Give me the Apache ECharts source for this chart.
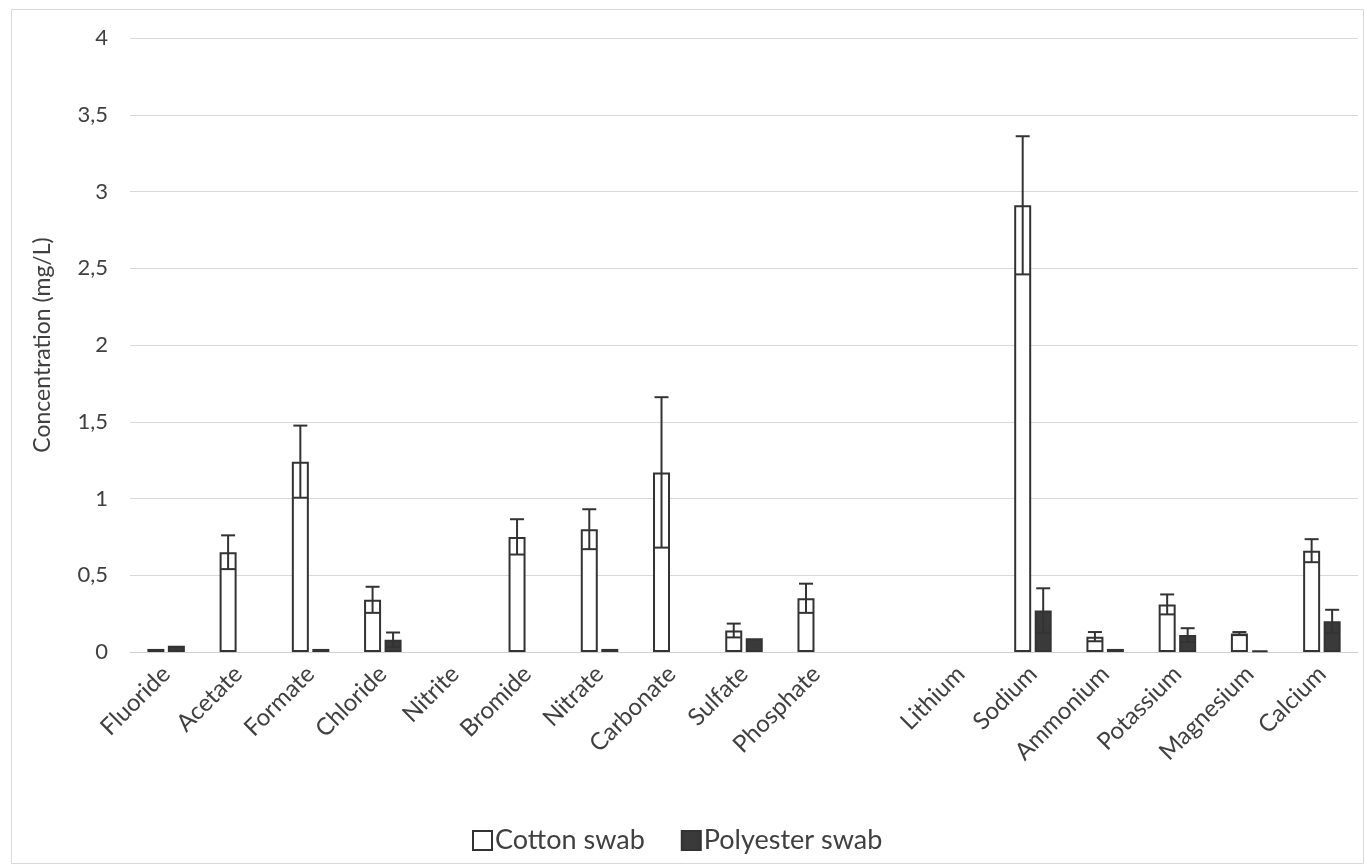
<!DOCTYPE html>
<html>
<head>
<meta charset="utf-8">
<script src="https://cdn.jsdelivr.net/npm/echarts@6/dist/echarts.min.js"></script>
<style>html,body{margin:0;padding:0;background:#fff;}#main{width:1366px;height:867px;}</style>
</head>
<body>
<div id="main"></div>
<script>
const categories = ['Fluoride','Acetate','Formate','Chloride','Nitrite','Bromide','Nitrate','Carbonate','Sulfate','Phosphate','','Lithium','Sodium','Ammonium','Potassium','Magnesium','Calcium'];
const cotton    = [0.02, 0.65, 1.24, 0.34, 0, 0.75, 0.80, 1.17, 0.14, 0.35, null, 0, 2.91, 0.10, 0.31, 0.12, 0.66];
const cottonErr = [0,    0.11, 0.235,0.085,0, 0.115,0.13, 0.49, 0.045,0.095,null, 0, 0.45, 0.03, 0.065,0.01, 0.075];
const polyester = [0.04, 0,    0.02, 0.08, 0, 0,    0.02, 0,    0.09, 0,    null, 0, 0.27, 0.02, 0.11, 0.01, 0.20];
const polyErr   = [0,    0,    0,    0.047,0, 0,    0,    0,    0,    0,    null, 0, 0.145,0,    0.045,0,    0.075];
const yTicks = [0, 0.5, 1, 1.5, 2, 2.5, 3, 3.5, 4];

const BAR_W = 17, GAP = 3.5;
const off = (BAR_W + GAP) / 2;
const ink = '#333333';
const FONT = 'Lato, "Open Sans", sans-serif';

// zero values are not drawn (as in the source chart)
const barData = vals => vals.map(v => (v === 0 ? null : v));

function errData(vals, errs) {
  const out = [];
  vals.forEach((v, i) => { if (v != null && errs[i]) out.push([i, v, errs[i]]); });
  return out;
}
function errSeries(vals, errs, dx) {
  return {
    type: 'custom',
    data: errData(vals, errs),
    encode: { x: 0, y: 1 },
    z: 5,
    silent: true,
    renderItem: function (params, api) {
      const i = api.value(0), v = api.value(1), e = api.value(2);
      const hi = api.coord([i, v + e]);
      const lo = api.coord([i, v - e]);
      const x = hi[0] + dx;
      const cw = 7;
      const st = { stroke: ink, lineWidth: 2 };
      return {
        type: 'group',
        children: [
          { type: 'line', shape: { x1: x, y1: hi[1], x2: x, y2: lo[1] }, style: st },
          { type: 'line', shape: { x1: x - cw, y1: hi[1], x2: x + cw, y2: hi[1] }, style: st },
          { type: 'line', shape: { x1: x - cw, y1: lo[1], x2: x + cw, y2: lo[1] }, style: st }
        ]
      };
    }
  };
}

const chart = echarts.init(document.getElementById('main'));
chart.setOption({
  animation: false,
  backgroundColor: '#ffffff',
  textStyle: { fontFamily: FONT },
  graphic: [{
    type: 'rect', left: 9, top: 7, shape: { width: 1352, height: 854 },
    style: { fill: 'none', stroke: '#d9d9d9', lineWidth: 1 }, silent: true, z: -1
  }],
  grid: { left: 130, right: 8, top: 38, bottom: 215 },
  legend: {
    left: 467, top: 822,
    icon: 'rect',
    itemWidth: 19, itemHeight: 19, itemGap: 36,
    textStyle: { fontSize: 27, color: '#404040', fontFamily: FONT, padding: [0, 0, 0, -2] },
    data: ['Cotton swab', 'Polyester swab']
  },
  xAxis: {
    type: 'category',
    data: categories,
    axisTick: { show: false },
    axisLine: { lineStyle: { color: '#d0d0d0', width: 1 } },
    axisLabel: { rotate: 45, fontSize: 24, color: '#404040', margin: 18, interval: 0, fontFamily: FONT }
  },
  yAxis: {
    type: 'value',
    min: 0, max: 4, interval: 0.5,
    name: 'Concentration (mg/L)',
    nameLocation: 'middle',
    nameGap: 76,
    nameTextStyle: { fontSize: 23, color: '#404040', fontFamily: FONT },
    axisLine: { show: false },
    axisTick: { show: false },
    splitLine: { lineStyle: { color: '#d9d9d9', width: 1 } },
    axisLabel: {
      fontSize: 22, color: '#404040', margin: 22, fontFamily: FONT,
      formatter: v => yTicks.includes(v) ? String(v).replace('.', ',') : ''
    }
  },
  series: [
    {
      name: 'Cotton swab', type: 'bar', data: barData(cotton),
      barWidth: BAR_W, barGap: (GAP / BAR_W * 100).toFixed(1) + '%',
      itemStyle: { color: '#ffffff', borderColor: ink, borderWidth: 2 }
    },
    {
      name: 'Polyester swab', type: 'bar', data: barData(polyester),
      barWidth: BAR_W,
      itemStyle: { color: '#3a3a3a', borderColor: ink, borderWidth: 2 }
    },
    errSeries(cotton, cottonErr, -off),
    errSeries(polyester, polyErr, off)
  ]
});
</script>
</body>
</html>
